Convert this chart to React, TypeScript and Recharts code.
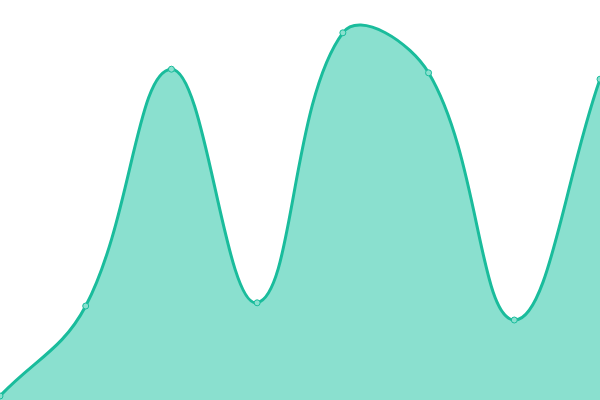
import React from "react";
import { AreaChart, Area, XAxis, YAxis } from "recharts";

const categories = ["P1", "P2", "P3", "P4", "P5", "P6", "P7", "P8"];
const seriesValues = [1, 23.5, 82.7, 24.3, 91.8, 81.8, 20, 80.2];

const data = categories.map((c, i) => ({ name: c, value: seriesValues[i] }));

// Chart.js-style spline (tension 0.4) as a d3 curve factory
const TENSION = 0.4;
function splineCurve(context: any) {
  let pts: number[][] = [];
  let line = NaN;
  return {
    areaStart() {
      line = 0;
    },
    areaEnd() {
      line = NaN;
    },
    lineStart() {
      pts = [];
    },
    point(x: number, y: number) {
      pts.push([+x, +y]);
    },
    lineEnd() {
      const n = pts.length;
      if (n) {
        if (line) context.lineTo(pts[0][0], pts[0][1]);
        else context.moveTo(pts[0][0], pts[0][1]);
        const cps = pts.map((cur, i) => {
          const prev = pts[i - 1] || cur;
          const next = pts[i + 1] || cur;
          const d01 = Math.hypot(cur[0] - prev[0], cur[1] - prev[1]);
          const d12 = Math.hypot(next[0] - cur[0], next[1] - cur[1]);
          let s01 = d01 / (d01 + d12);
          let s12 = d12 / (d01 + d12);
          if (isNaN(s01)) s01 = 0;
          if (isNaN(s12)) s12 = 0;
          const fa = TENSION * s01;
          const fb = TENSION * s12;
          return {
            c1: [cur[0] - fa * (next[0] - prev[0]), cur[1] - fa * (next[1] - prev[1])],
            c2: [cur[0] + fb * (next[0] - prev[0]), cur[1] + fb * (next[1] - prev[1])],
          };
        });
        for (let i = 1; i < n; i++) {
          const a = cps[i - 1].c2;
          const b = cps[i].c1;
          context.bezierCurveTo(a[0], a[1], b[0], b[1], pts[i][0], pts[i][1]);
        }
      }
      if (line || (line !== 0 && n === 1)) context.closePath();
      line = 1 - line;
    },
  };
}

export default function App() {
  return (
    <div style={{ position: "absolute", left: 0, top: 0, width: 600, height: 400 }}>
      <AreaChart width={600} height={400} data={data} margin={{ top: 0, right: 0, bottom: 0, left: 0 }}>
        <XAxis dataKey="name" hide />
        <YAxis hide domain={[0, 100]} />
        <Area
          type={splineCurve as any}
          dataKey="value"
          stroke="#1abc9c"
          strokeWidth={3}
          fill="#8ae0cf"
          fillOpacity={1}
          dot={{ r: 3, fill: "#8ae0cf", stroke: "#1abc9c", strokeWidth: 1, fillOpacity: 1 }}
          activeDot={false}
          isAnimationActive={false}
        />
      </AreaChart>
    </div>
  );
}
